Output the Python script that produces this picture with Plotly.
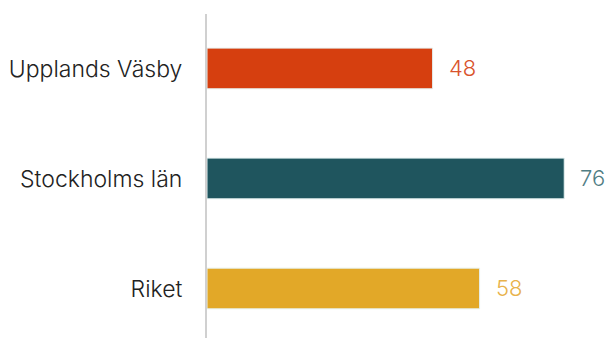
import plotly.graph_objects as go

# Data
categories = ["Upplands Väsby", "Stockholms län", "Riket"]
values = [48, 76, 58]
bar_colors = ["#D63F0F", "#1F555E", "#E2A828"]
text_colors = ["#D9532C", "#4F7D83", "#E8B24A"]

FONT = "Inter, Lato, sans-serif"

fig = go.Figure()
fig.add_trace(go.Bar(
    y=categories, x=values, orientation="h",
    marker=dict(color=bar_colors, line=dict(color="#E6F2F2", width=1)),
    width=0.37, hoverinfo="skip",
))

# value labels to the right of each bar
for cat, val, col in zip(categories, values, text_colors):
    fig.add_annotation(x=val, y=cat, text=str(val), showarrow=False,
                       xanchor="left", xshift=14,
                       font=dict(size=22, color=col, family=FONT, weight=300))

fig.update_layout(
    width=609, height=338,
    margin=dict(l=207, r=10, t=14, b=0),
    plot_bgcolor="white", paper_bgcolor="white",
    showlegend=False,
    font=dict(family=FONT, color="#222222", weight=300),
)
fig.update_xaxes(range=[0, 83.4], visible=False, showgrid=False)
fig.update_yaxes(range=[2.45, -0.495], showgrid=False, showline=True,
                 linecolor="#D0D0D0", linewidth=2, ticks="",
                 ticklabelstandoff=18,
                 tickfont=dict(size=23, color="#222222", weight=300))

# drop the default body margin so the figure fills the window
fig.write_html("out.html", config={"displayModeBar": False},
               post_script="document.body.style.margin='0';")
